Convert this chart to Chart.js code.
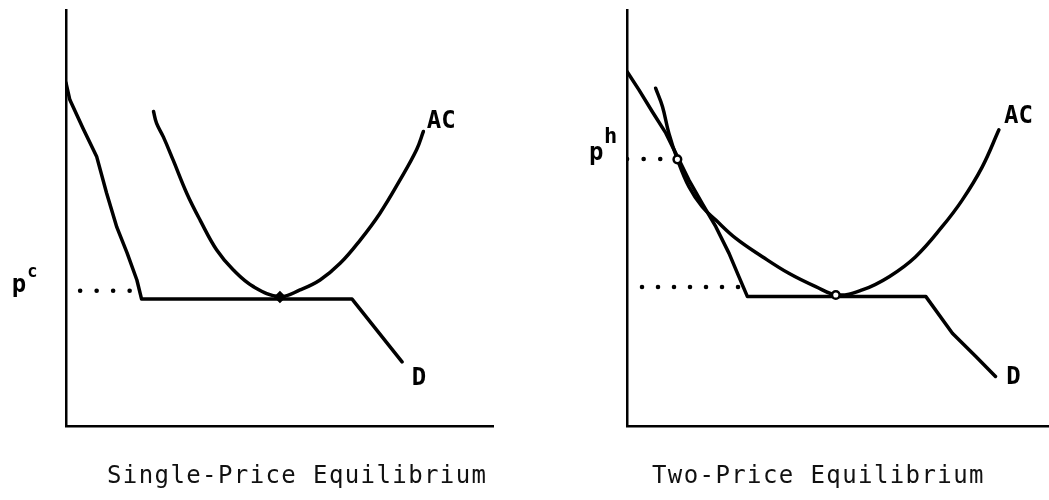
<!DOCTYPE html>
<html>
<head>
<meta charset="utf-8">
<script src="https://cdn.jsdelivr.net/npm/chart.js@4.4.1/dist/chart.umd.min.js"></script>
<style>
  html, body { margin: 0; padding: 0; background: #fff; overflow: hidden; }
  body { width: 1049px; height: 500px; position: relative; }
  canvas { position: absolute; top: 0; }
  #left { left: 0; }
  #right { left: 561px; }
  .title {
    position: absolute; top: 463px;
    font-family: "DejaVu Sans Mono", monospace;
    font-size: 24px; line-height: 24px; letter-spacing: 1.4px;
    color: #111; white-space: nowrap;
  }
</style>
</head>
<body>
<canvas id="left" width="524" height="500"></canvas>
<canvas id="right" width="524" height="500"></canvas>
<div class="title" style="left:107px">Single-Price Equilibrium</div>
<div class="title" style="left:652px">Two-Price Equilibrium</div>
<script>
// quantity (x) and price (y), both on a 0-100 scale

// single-price panel
const leftDemandQ = [0, 0.9, 4.0, 7.2, 9.5, 11.9, 14.3, 16.6, 17.7, 67.0, 78.7];
const leftDemandP = [82.5, 78.4, 71.5, 64.7, 56.0, 47.8, 41.6, 35.1, 30.5, 30.5, 15.4];
const leftCostQ = [20.5, 21.2, 22.8, 25.1, 28.3, 31.4, 35.3, 39.2, 43.9, 50.1, 54.8, 59.5, 64.2, 68.9, 73.5, 78.2, 82.1, 83.7];
const leftCostP = [75.6, 72.8, 69.5, 63.9, 55.9, 49.5, 42.3, 37.5, 33.5, 31.1, 32.7, 35.1, 39.1, 44.7, 51.1, 59.1, 66.4, 70.8];
const leftDotsQ = [3.3, 15.0];
const leftDotsP = [32.5, 32.5];
const leftEquilQ = [50.1];
const leftEquilP = [31.0];

// two-price panel
const rightDemandQ = [0, 2.8, 5.9, 9.1, 11.4, 14.5, 17.6, 20.8, 23.9, 26.2, 28.2, 70.0, 76.2, 81.7, 86.3];
const rightDemandP = [85.2, 80.8, 75.6, 70.4, 65.6, 59.1, 53.5, 47.9, 41.5, 35.9, 31.1, 31.1, 22.3, 16.7, 11.9];
const rightCostQ = [6.7, 8.3, 9.8, 11.8, 14.5, 17.6, 20.8, 25.5, 31.7, 37.9, 44.2, 49.3, 55.1, 61.4, 67.6, 73.8, 78.5, 83.2, 87.1];
const rightCostP = [81.2, 76.8, 70.4, 64.1, 57.5, 52.7, 49.5, 45.1, 40.7, 36.7, 33.5, 31.5, 32.7, 35.9, 40.7, 47.9, 54.3, 62.3, 71.2];
const rightHighDotsQ = [0, 11.8];
const rightHighDotsP = [64.2, 64.2];
const rightLowDotsQ = [3.5, 26.2];
const rightLowDotsP = [33.4, 33.4];
const rightEquilQ = [11.8, 48.9];
const rightEquilP = [64.1, 31.5];

const pts = (qs, ps) => qs.map((q, i) => ({ x: q, y: ps[i] }));

// text drawn at data coordinates (baseline-left)
const textLabels = {
  id: 'textLabels',
  afterDatasetsDraw(chart, args, opts) {
    const { ctx, scales: { x, y } } = chart;
    ctx.save();
    ctx.fillStyle = '#000';
    ctx.textBaseline = 'alphabetic';
    opts.items.forEach(l => {
      ctx.font = `bold ${l.size}px "DejaVu Sans Mono", monospace`;
      ctx.fillText(l.text, x.getPixelForValue(l.q), y.getPixelForValue(l.p));
    });
    ctx.restore();
  }
};

function curve(data, smooth) {
  return {
    data, showLine: true, borderColor: '#000', borderWidth: 3.5, pointRadius: 0,
    tension: smooth ? 0.4 : 0,
    borderJoinStyle: 'round', borderCapStyle: 'round'
  };
}

function dots(data, gap) {
  return {
    data, showLine: true, borderColor: '#000', borderWidth: 4.5, pointRadius: 0,
    borderDash: [0.1, gap], borderCapStyle: 'round'
  };
}

function marks(data, r, style, fill) {
  return {
    data, showLine: false, pointRadius: r, pointStyle: style, pointBorderWidth: 2.5,
    pointBorderColor: '#000', pointBackgroundColor: fill
  };
}

const axis = {
  type: 'linear', min: 0, max: 100,
  ticks: { display: false },
  grid: { display: false, drawTicks: false },
  border: { display: true, color: '#000', width: 2.5 }
};

function makeChart(id, datasets, items) {
  new Chart(document.getElementById(id), {
    type: 'scatter',
    data: { datasets },
    options: {
      responsive: false,
      animation: false,
      layout: { padding: { left: 66, top: 10, right: 31, bottom: 74 } },
      scales: { x: axis, y: axis },
      plugins: {
        legend: { display: false },
        tooltip: { enabled: false },
        textLabels: { items }
      }
    },
    plugins: [textLabels]
  });
}

makeChart('left', [
  marks(pts(leftEquilQ, leftEquilP), 4.5, 'rectRot', '#000'),
  curve(pts(leftCostQ, leftCostP), true),
  curve(pts(leftDemandQ, leftDemandP), false),
  dots(pts(leftDotsQ, leftDotsP), 16.4)
], [
  { text: 'AC', q: 84.5, p: 71.6, size: 24 },
  { text: 'D', q: 81.0, p: 9.8, size: 24 },
  { text: 'p', q: -12.7, p: 32.2, size: 24 },
  { text: 'c', q: -9.1, p: 35.8, size: 17 }
]);

makeChart('right', [
  marks(pts(rightEquilQ, rightEquilP), 3.8, 'circle', '#fff'),
  curve(pts(rightCostQ, rightCostP), true),
  curve(pts(rightDemandQ, rightDemandP), false),
  dots(pts(rightHighDotsQ, rightHighDotsP), 16.5),
  dots(pts(rightLowDotsQ, rightLowDotsP), 15.9)
], [
  { text: 'AC', q: 88.3, p: 72.8, size: 24 },
  { text: 'D', q: 88.8, p: 10.0, size: 24 },
  { text: 'p', q: -8.9, p: 63.9, size: 24 },
  { text: 'h', q: -5.4, p: 68.0, size: 22 }
]);
</script>
</body>
</html>
